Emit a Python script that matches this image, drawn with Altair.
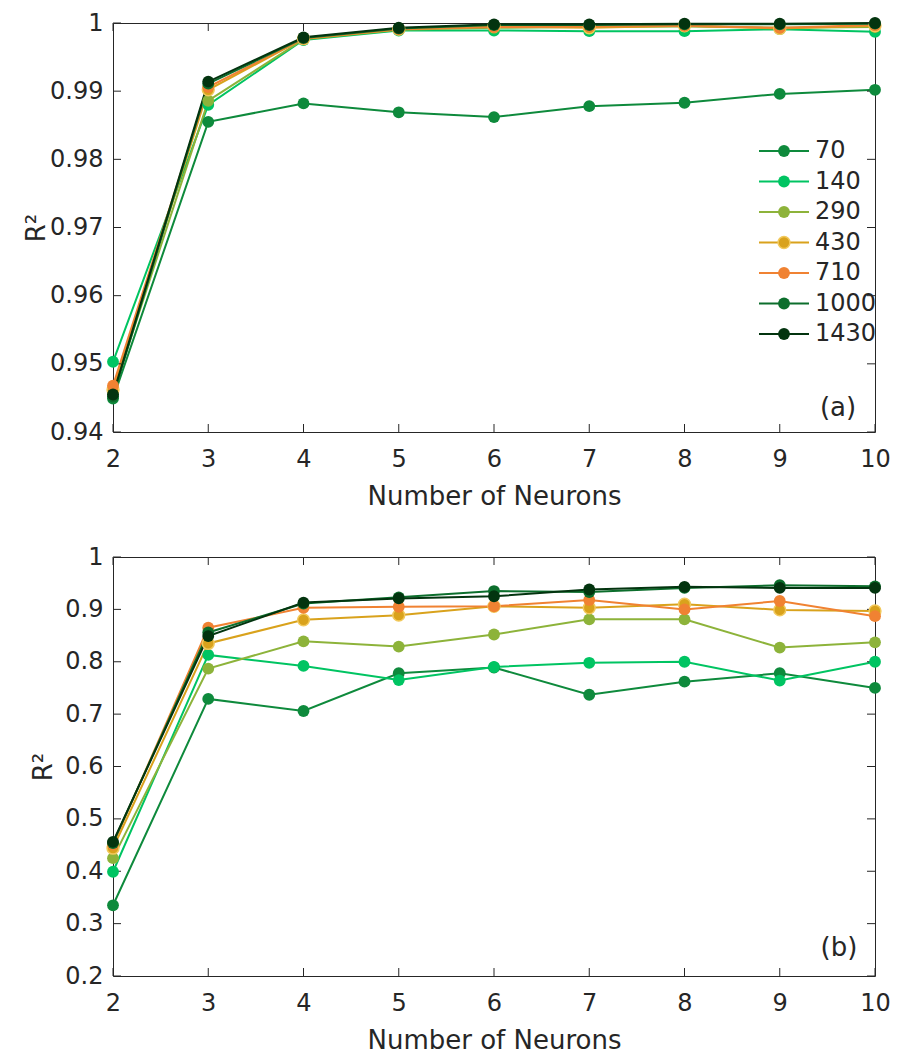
import altair as alt
import pandas as pd

# ---------------- data ----------------
neurons = [2, 3, 4, 5, 6, 7, 8, 9, 10]
series = ["70", "140", "290", "430", "710", "1000", "1430"]

# panel (a)
a_70 = [0.9449, 0.9855, 0.9882, 0.9869, 0.9862, 0.9878, 0.9883, 0.9896, 0.9902]
a_140 = [0.9503, 0.9880, 0.9975, 0.9989, 0.9989, 0.9988, 0.9988, 0.9991, 0.9987]
a_290 = [0.9458, 0.9886, 0.9976, 0.9990, 0.9993, 0.9994, 0.9995, 0.9993, 0.9994]
a_430 = [0.9462, 0.9902, 0.9977, 0.9991, 0.9995, 0.9993, 0.9996, 0.9992, 0.9996]
a_710 = [0.9468, 0.9906, 0.9977, 0.9991, 0.9994, 0.9995, 0.9996, 0.9993, 0.9997]
a_1000 = [0.9452, 0.9911, 0.9978, 0.9992, 0.9997, 0.9997, 0.9998, 0.9998, 0.9999]
a_1430 = [0.9455, 0.9914, 0.9979, 0.9993, 0.9998, 0.9998, 0.9999, 0.9999, 1.0000]

# panel (b)
b_70 = [0.335, 0.729, 0.706, 0.778, 0.789, 0.737, 0.762, 0.778, 0.750]
b_140 = [0.399, 0.813, 0.792, 0.765, 0.790, 0.798, 0.800, 0.764, 0.800]
b_290 = [0.425, 0.787, 0.839, 0.829, 0.852, 0.881, 0.881, 0.827, 0.837]
b_430 = [0.444, 0.835, 0.880, 0.889, 0.906, 0.903, 0.910, 0.899, 0.897]
b_710 = [0.451, 0.865, 0.903, 0.905, 0.906, 0.918, 0.900, 0.916, 0.887]
b_1000 = [0.454, 0.856, 0.911, 0.923, 0.935, 0.933, 0.941, 0.946, 0.944]
b_1430 = [0.456, 0.849, 0.913, 0.921, 0.925, 0.938, 0.943, 0.941, 0.941]

a_ticks = [0.94, 0.95, 0.96, 0.97, 0.98, 0.99, 1.0]
b_ticks = [0.2, 0.3, 0.4, 0.5, 0.6, 0.7, 0.8, 0.9, 1.0]

# ---------------- styles ----------------
line_colors = ["#0e8a3c", "#00c462", "#8db33a", "#d9a21c", "#f08232", "#0c6e2c", "#03340f"]
RING = "#f2c95c"
INK = "#262626"
FONT = "DejaVu Sans"
W = 762
H_A = 409
H_B = 419
TICK = 8
DOT = 140
# legend box layout (pixels inside panel a)
LEG_TOP, LEG_BOTTOM = 128, 311
LEG_X0, LEG_X1, LEG_DOT, LEG_TEXT = 646, 696, 671, 702


def to_long(cols):
    rows = []
    for s, vals in zip(series, cols):
        for n, v in zip(neurons, vals):
            rows.append({"Series": s, "Neurons": n, "R2": v})
    return pd.DataFrame(rows)


def color_scale():
    return alt.Scale(domain=series, range=line_colors)


def ring_stroke():
    return alt.condition("datum.Series == '430'", alt.value(RING), alt.value("transparent"))


def panel(df, y_domain, y_ticks, tag, height, title_x, tag_dx, tag_dy):
    xs = alt.Scale(domain=[2, 10], nice=False, zero=False)
    ys = alt.Scale(domain=y_domain, nice=False, zero=False)
    x_axis = alt.Axis(values=neurons, format="d", tickSize=0, domain=False, grid=False,
                      labelPadding=15, labelFlush=False, labelOverlap=False,
                      title="Number of Neurons", titlePadding=12)
    y_axis = alt.Axis(values=y_ticks, format="~g", tickSize=0, domain=False, grid=False,
                      labelPadding=10, labelFlush=False, labelOverlap=False,
                      title="R²", titleX=title_x)

    lines = alt.Chart(df).mark_line(strokeWidth=2).encode(
        x=alt.X("Neurons:Q", scale=xs, axis=x_axis, title="Number of Neurons"),
        y=alt.Y("R2:Q", scale=ys, axis=y_axis, title="R²"),
        color=alt.Color("Series:N", scale=color_scale(), legend=None),
    )
    pts = alt.Chart(df).mark_point(filled=True, size=DOT, strokeWidth=1.5, opacity=1).encode(
        x=alt.X("Neurons:Q", scale=xs, axis=x_axis, title="Number of Neurons"),
        y=alt.Y("R2:Q", scale=ys, axis=y_axis, title="R²"),
        fill=alt.Fill("Series:N", scale=color_scale(), legend=None),
        stroke=ring_stroke(),
    )

    xt = pd.DataFrame({"t": neurons})
    yt = pd.DataFrame({"t": y_ticks})
    tick_bottom = alt.Chart(xt).mark_rule(color=INK, strokeWidth=1).encode(
        x=alt.X("t:Q", scale=xs, axis=x_axis, title="Number of Neurons"),
        y=alt.value(height), y2=alt.value(height - TICK))
    tick_top = alt.Chart(xt).mark_rule(color=INK, strokeWidth=1).encode(
        x=alt.X("t:Q", scale=xs, axis=x_axis, title="Number of Neurons"),
        y=alt.value(0), y2=alt.value(TICK))
    tick_left = alt.Chart(yt).mark_rule(color=INK, strokeWidth=1).encode(
        y=alt.Y("t:Q", scale=ys, axis=y_axis, title="R²"),
        x=alt.value(0), x2=alt.value(TICK))
    tick_right = alt.Chart(yt).mark_rule(color=INK, strokeWidth=1).encode(
        y=alt.Y("t:Q", scale=ys, axis=y_axis, title="R²"),
        x=alt.value(W), x2=alt.value(W - TICK))

    tag_df = pd.DataFrame({"tag": [tag]})
    tag_txt = alt.Chart(tag_df).mark_text(font=FONT, fontSize=26, color=INK,
                                          align="center", baseline="middle").encode(
        text="tag:N", x=alt.value(W - tag_dx), y=alt.value(height - tag_dy))

    return alt.layer(lines, tick_bottom, tick_top, tick_left, tick_right, pts, tag_txt)


def legend_layer():
    ldf = pd.DataFrame({"Series": series})
    ly = alt.Y("Series:N", axis=None,
               scale=alt.Scale(type="point", domain=series, range=[LEG_TOP, LEG_BOTTOM], padding=0))
    seg = alt.Chart(ldf).mark_rule(strokeWidth=2).encode(
        y=ly, x=alt.value(LEG_X0), x2=alt.value(LEG_X1),
        color=alt.Color("Series:N", scale=color_scale(), legend=None))
    dot = alt.Chart(ldf).mark_point(filled=True, size=DOT, strokeWidth=1.5, opacity=1).encode(
        y=ly, x=alt.value(LEG_DOT),
        fill=alt.Fill("Series:N", scale=color_scale(), legend=None),
        stroke=ring_stroke())
    lab = alt.Chart(ldf).mark_text(font=FONT, fontSize=24, color=INK, align="left",
                                   baseline="middle").encode(
        y=ly, x=alt.value(LEG_TEXT), text="Series:N")
    return alt.layer(seg, dot, lab)


top_main = panel(to_long([a_70, a_140, a_290, a_430, a_710, a_1000, a_1430]),
                 [0.94, 1.0], a_ticks, "(a)", H_A, -64, 37, 24)
top = alt.layer(top_main, legend_layer()).resolve_scale(y="independent").properties(
    width=W, height=H_A)

bottom = panel(to_long([b_70, b_140, b_290, b_430, b_710, b_1000, b_1430]),
               [0.2, 1.0], b_ticks, "(b)", H_B, -57, 36, 28).properties(width=W, height=H_B)

chart = alt.vconcat(top, bottom, spacing=34).properties(
    padding={"left": 14, "top": 2, "right": 0, "bottom": 0},
    background="white",
).configure_view(
    stroke=INK, strokeWidth=1
).configure_axis(
    labelFont=FONT, labelFontSize=24, labelColor=INK,
    titleFont=FONT, titleFontSize=26, titleColor=INK, titleFontWeight="normal",
)

chart.save("out.html", embed_options={"renderer": "svg", "actions": False})
